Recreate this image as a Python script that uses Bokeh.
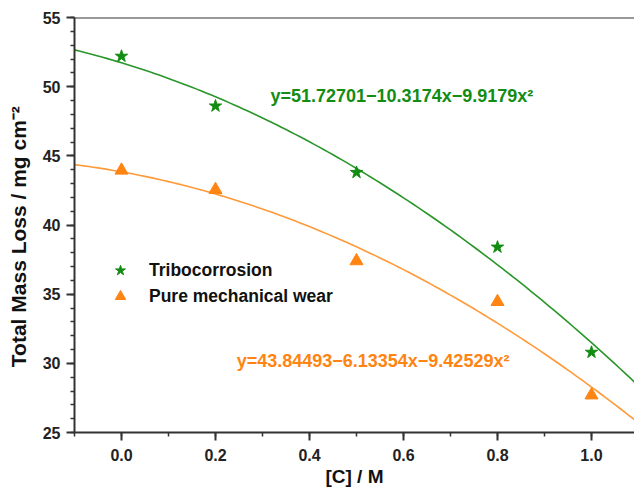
import numpy as np
from bokeh.plotting import figure
from bokeh.models import (ColumnDataSource, Legend, LegendItem, Span, Range1d,
                          SingleIntervalTicker, PrintfTickFormatter)
from bokeh.core.properties import value
from bokeh.embed import file_html
from bokeh.resources import INLINE

# ---- data ----
conc = [0.0, 0.2, 0.5, 0.8, 1.0]
tribo = [52.2, 48.6, 43.8, 38.4, 30.8]
mech = [43.95, 42.55, 37.4, 34.45, 27.7]

# quadratic fit coefficients printed on the chart (a + b x + c x^2)
tribo_fit = [51.72701, -10.3174, -9.9179]
mech_fit = [43.84493, -6.13354, -9.42529]

tribo_eq = "y=51.72701\u221210.3174x\u22129.9179x\u00b2"
mech_eq = "y=43.84493\u22126.13354x\u22129.42529x\u00b2"
series_names = ["Tribocorrosion", "Pure mechanical wear"]

x_title = "[C] / M"
y_title = "Total Mass Loss / mg cm\u207b\u00b2"

GREEN = "#138c13"
GREEN_LINE = "#2a962a"
ORANGE = "#ff8411"
ORANGE_LINE = "#ff9a3a"
FONT = "Liberation Sans"
AX = "#333333"

p = figure(width=634, height=496, output_backend="svg", toolbar_location=None,
           x_range=Range1d(-0.1, 1.0915), y_range=Range1d(25, 55),
           min_border_left=74, min_border_top=17, min_border_right=0,
           min_border_bottom=64)
p.outline_line_color = None
p.grid.visible = False
p.background_fill_color = "white"
p.border_fill_color = "white"

xs = np.linspace(-0.1, 1.1, 121)
ty = tribo_fit[0] + tribo_fit[1] * xs + tribo_fit[2] * xs ** 2
my = mech_fit[0] + mech_fit[1] * xs + mech_fit[2] * xs ** 2
p.line(xs, ty, line_color=GREEN_LINE, line_width=1.6)
p.line(xs, my, line_color=ORANGE_LINE, line_width=1.6)

src = ColumnDataSource(dict(x=conc, t=tribo, m=mech))
r1 = p.scatter("x", "t", source=src, marker="star", size=13,
               fill_color=GREEN, line_color=GREEN)
r2 = p.scatter("x", "m", source=src, marker="triangle", size=13,
               fill_color=ORANGE, line_color=ORANGE)

# top border
p.add_layout(Span(location=55, dimension="width", line_color=AX, line_width=2))

# equations
p.text(x=[0.317], y=[49.3], text=[tribo_eq], text_color=GREEN,
       text_font=value(FONT), text_font_style="bold", text_font_size="18px",
       text_baseline="middle", text_align="left")
p.text(x=[0.245], y=[30.2], text=[mech_eq], text_color=ORANGE,
       text_font=value(FONT), text_font_style="bold", text_font_size="18px",
       text_baseline="middle", text_align="left")

# axes
xa = p.xaxis[0]
xa.ticker = SingleIntervalTicker(interval=0.2, num_minor_ticks=2)
xa.formatter = PrintfTickFormatter(format="%.1f")
ya = p.yaxis[0]
ya.ticker = SingleIntervalTicker(interval=5, num_minor_ticks=5)
ya.formatter = PrintfTickFormatter(format="%d")
for ax in (xa, ya):
    ax.axis_line_color = AX
    ax.axis_line_width = 2
    ax.major_tick_line_color = AX
    ax.major_tick_line_width = 2
    ax.minor_tick_line_color = AX
    ax.minor_tick_line_width = 1.5
    ax.major_tick_in = 0
    ax.major_tick_out = 8
    ax.minor_tick_in = 0
    ax.minor_tick_out = 4
    ax.major_label_text_font = FONT
    ax.major_label_text_font_style = "bold"
    ax.major_label_text_font_size = "16px"
    ax.major_label_text_color = "#222222"
    ax.axis_label_text_font = FONT
    ax.axis_label_text_font_style = "bold"
    ax.axis_label_text_color = "#111111"
ya.major_label_standoff = 6
xa.major_label_standoff = 8
xa.axis_label = x_title
xa.axis_label_text_font_size = "19px"
xa.axis_label_standoff = 2
# trailing no-break spaces shift the title slightly below the frame centre
ya.axis_label = y_title + "\u00a0" * 4
ya.axis_label_text_font_size = "21px"
ya.axis_label_standoff = 10

legend = Legend(items=[LegendItem(label=series_names[0], renderers=[r1]),
                       LegendItem(label=series_names[1], renderers=[r2])],
                location=(33, 123), glyph_width=26, glyph_height=26,
                label_standoff=16, spacing=0, padding=0, margin=0,
                border_line_color=None, background_fill_alpha=0,
                label_text_font=FONT, label_text_font_style="bold",
                label_text_font_size="17.5px", label_text_color="#111111")
p.add_layout(legend)

open("out.html", "w").write(file_html(p, INLINE))
